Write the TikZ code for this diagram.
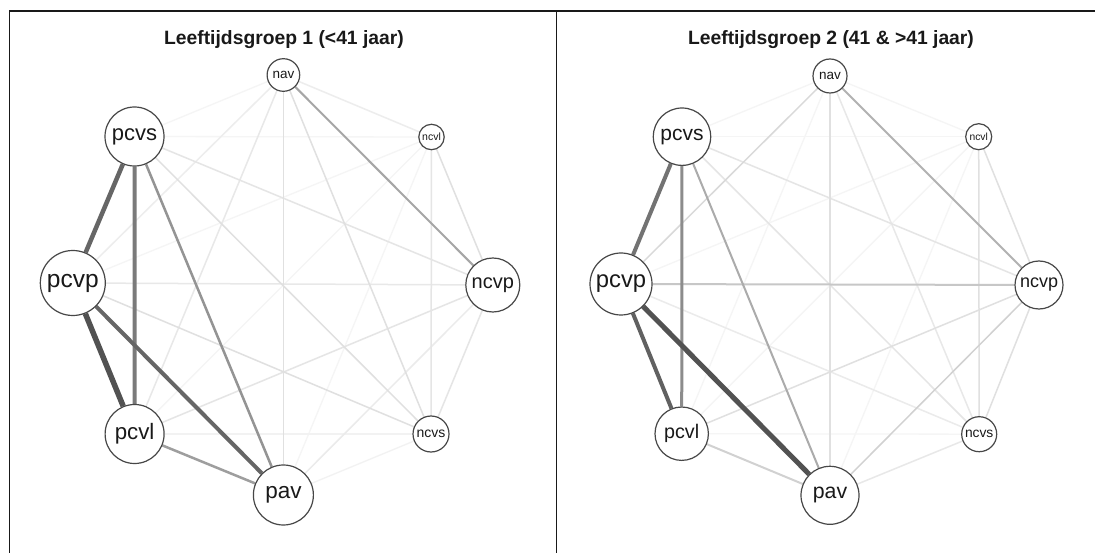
\documentclass[tikz,border=0pt]{standalone}
\usepackage{fontspec}
\setmainfont{Liberation Sans}
\pgfdeclarelayer{background}
\pgfdeclarelayer{paper}
\pgfsetlayers{paper,background,main}
\newcommand\fsz[1]{\fontsize{#1}{#1}\selectfont}
\tikzset{
  frame/.style={draw=black!90, line width=1.4pt},
  nd/.style={circle, draw=black!72, line width=1.2pt, fill=white, inner sep=0pt, text=black!90},
  ttl/.style={font=\bfseries\fsz{19.3}, text=black!90},
  e/.style 2 args={draw=black!#1, line width=#2pt},
}
\begin{document}
\begin{tikzpicture}[x=1pt,y=-1pt]
\useasboundingbox (0,0) rectangle (1095,553);
\begin{pgfonlayer}{paper}
  \fill[white] (0,0) rectangle (1095,553);
\end{pgfonlayer}

% panel frames
\draw[frame] (9.5,553) -- (9.5,11) -- (1095,11);
\draw[frame] (556.5,11) -- (556.5,553);

% ---------- group 1 ----------
\node[ttl] (t1) at (284,40) {Leeftijdsgroep 1 (<41 jaar)};
\node[nd, minimum size=32.6pt, font=\fsz{13.5}] (N1) at (283.4,75) {nav};
\node[nd, minimum size=25.4pt, font=\fsz{10.5}] (L1) at (431.5,137) {ncvl};
\node[nd, minimum size=59pt,   font=\fsz{22}]   (s1) at (134.5,136.5) {pcvs};
\node[nd, minimum size=65pt,   font=\fsz{24.5}] (p1) at (72.8,283) {pcvp};
\node[nd, minimum size=54pt,   font=\fsz{20}]   (P1) at (492.8,285) {ncvp};
\node[nd, minimum size=59pt,   font=\fsz{22.3}] (l1) at (134.6,434) {pcvl};
\node[nd, minimum size=36pt,   font=\fsz{14}]   (S1) at (431,434) {ncvs};
\node[nd, minimum size=60pt,   font=\fsz{22.5}] (A1) at (283.4,495) {pav};

\begin{pgfonlayer}{background}
  % faint connections
  \draw[e={4}{1.3}] (N1) -- (s1);
  \draw[e={4}{1.3}] (L1) -- (A1);
  \draw[e={4}{1.3}] (L1) -- (l1);
  \draw[e={4}{1.3}] (L1) -- (p1);
  \draw[e={4}{1.3}] (L1) -- (s1);
  \draw[e={5}{1.3}] (S1) -- (A1);
  \draw[e={5}{1.3}] (S1) -- (l1);
  \draw[e={7}{1.5}] (N1) -- (p1);
  \draw[e={7}{1.5}] (N1) -- (L1);
  \draw[e={8}{1.5}] (P1) -- (A1);
  \draw[e={9}{1.5}] (P1) -- (p1);
  \draw[e={9}{1.5}] (N1) -- (l1);
  \draw[e={10}{1.5}] (P1) -- (l1);
  \draw[e={10}{1.5}] (P1) -- (s1);
  \draw[e={10}{1.5}] (P1) -- (S1);
  \draw[e={10}{1.5}] (L1) -- (S1);
  \draw[e={12}{1.5}] (L1) -- (P1);
  \draw[e={12}{1.5}] (S1) -- (p1);
  \draw[e={12}{1.5}] (S1) -- (s1);
  \draw[e={12}{1.5}] (N1) -- (A1);
  \draw[e={12}{1.5}] (N1) -- (S1);
  % stronger connections
  \draw[e={35}{2}]   (N1) -- (P1);
  \draw[e={38}{2.5}] (A1) -- (l1);
  \draw[e={42}{2.5}] (A1) -- (s1);
  \draw[e={52}{4}]   (l1) -- (s1);
  \draw[e={60}{4}]   (A1) -- (p1);
  \draw[e={60}{4.5}] (p1) -- (s1);
  \draw[e={68}{5.5}] (l1) -- (p1);
\end{pgfonlayer}

% ---------- group 2 ----------
\node[ttl] (t2) at (831,40) {Leeftijdsgroep 2 (41 \& >41 jaar)};
\node[nd, minimum size=34pt,   font=\fsz{13.5}] (N2) at (830,76) {nav};
\node[nd, minimum size=26pt,   font=\fsz{10.3}] (L2) at (978.7,136.7) {ncvl};
\node[nd, minimum size=57.4pt, font=\fsz{21}]   (s2) at (682,136.7) {pcvs};
\node[nd, minimum size=62pt,   font=\fsz{23.8}] (p2) at (621,284) {pcvp};
\node[nd, minimum size=48pt,   font=\fsz{18}]   (P2) at (1039,285) {ncvp};
\node[nd, minimum size=53.4pt, font=\fsz{19.7}] (l2) at (681.7,433.7) {pcvl};
\node[nd, minimum size=35pt,   font=\fsz{13.8}] (S2) at (979.2,434.2) {ncvs};
\node[nd, minimum size=58pt,   font=\fsz{21.3}] (A2) at (830,495.3) {pav};

\begin{pgfonlayer}{background}
  % faint connections
  \draw[e={4}{1.3}] (N2) -- (L2);
  \draw[e={4}{1.3}] (N2) -- (l2);
  \draw[e={4}{1.3}] (N2) -- (s2);
  \draw[e={4}{1.3}] (L2) -- (A2);
  \draw[e={4}{1.3}] (L2) -- (l2);
  \draw[e={4}{1.3}] (L2) -- (p2);
  \draw[e={4}{1.3}] (L2) -- (s2);
  \draw[e={4}{1.3}] (S2) -- (l2);
  \draw[e={8}{1.5}] (S2) -- (p2);
  \draw[e={9}{1.5}] (S2) -- (A2);
  \draw[e={9}{1.5}] (N2) -- (S2);
  \draw[e={10}{1.5}] (S2) -- (s2);
  \draw[e={10}{1.5}] (P2) -- (s2);
  \draw[e={12}{1.5}] (P2) -- (l2);
  \draw[e={12}{1.5}] (P2) -- (S2);
  \draw[e={12}{1.5}] (L2) -- (S2);
  \draw[e={12}{1.5}] (L2) -- (P2);
  \draw[e={12}{1.5}] (N2) -- (A2);
  \draw[e={15}{1.5}] (N2) -- (p2);
  \draw[e={18}{1.5}] (P2) -- (A2);
  \draw[e={22}{2}]   (P2) -- (p2);
  % stronger connections
  \draw[e={18}{2}]   (A2) -- (l2);
  \draw[e={30}{2}]   (N2) -- (P2);
  \draw[e={33}{2}]   (A2) -- (s2);
  \draw[e={45}{3}]   (l2) -- (s2);
  \draw[e={55}{4}]   (p2) -- (s2);
  \draw[e={62}{4}]   (l2) -- (p2);
  \draw[e={68}{5}]   (A2) -- (p2);
\end{pgfonlayer}
\end{tikzpicture}
\end{document}
